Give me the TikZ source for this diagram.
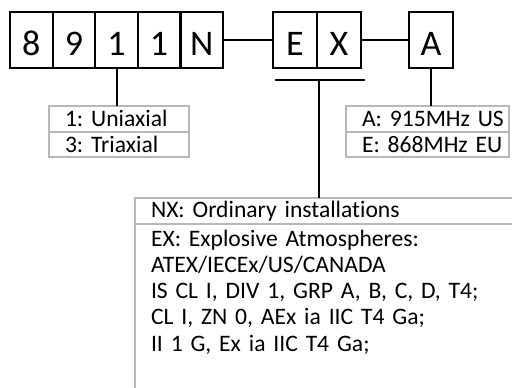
\documentclass[tikz,border=0pt]{standalone}
\usepackage{fontspec}
\setmainfont{Carlito}[Ligatures=NoCommon]
\usetikzlibrary{positioning}

\tikzset{
  cell/.style={draw,line width=1.1pt,minimum width=22pt,minimum height=28pt,inner sep=0pt,outer sep=0pt,
    text height=15pt,text depth=0pt,font=\fontsize{18}{18}\selectfont},
  opt/.style={draw=black!28,line width=1pt,inner xsep=0pt,inner ysep=0pt,outer sep=0pt,
    minimum height=12.8pt,align=left,execute at begin node=\leftskip8pt\relax,
    font=\fontsize{11.8}{13}\selectfont},
  optline/.style={draw=black!28,line width=1pt},
  link/.style={line width=1pt},
}

\begin{document}
\frenchspacing
\begin{tikzpicture}[x=0.5pt,y=-0.5pt]
\useasboundingbox[fill=white] (0,0) rectangle (512,387);
\clip (0,0) rectangle (512,387);
% model number
\foreach \d [count=\i] in {8,9,1,1,N}
  {\node[cell,minimum width=21.3pt] (m\i) at ({10+42.6*(\i-0.5)},40) {\d};}
\node[cell] (e1) at (295,40) {E};
\node[cell,right=0pt of e1] (e2) {X};
\node[cell] (fq) at (431,40) {A};
\draw[link] (m5) -- (e1);
\draw[link] (e2) -- (fq);
% axis options
\node[opt,text width=70pt,anchor=north west] (uni) at (49,106) {1: Uniaxial};
\node[opt,text width=70pt,below=0pt of uni] (tri) {3: Triaxial};
\draw[link] (m3.south) -- (m3.south |- uni.north);
% frequency options
\node[opt,text width=81.5pt,anchor=north west] (us) at (346,106) {A: 915MHz US};
\node[opt,text width=81.5pt,below=0pt of us] (eu) {E: 868MHz EU};
\draw[link] (fq.south) -- (fq.south |- us.north);
% approvals
\coordinate (barL) at (275,80);
\coordinate (barR) at (365,80);
\coordinate (barM) at (319,80);
\draw[link] (barL) -- (barR);
\node[opt,text width=200pt,anchor=north west] (nx) at (135,198) {NX: Ordinary installations};
\node[opt,draw=none,text width=200pt,inner ysep=3.5pt,anchor=north west] (ex) at (nx.south west)
  {EX: Explosive Atmospheres:\\
   ATEX/IECEx/US/CANADA\\
   IS CL I, DIV 1, GRP A, B, C, D, T4;\\
   CL I, ZN 0, AEx ia IIC T4 Ga;\\
   II 1 G, Ex ia IIC T4 Ga;};
\coordinate (exEnd) at (135,400);
\draw[optline] (nx.south west) -- (exEnd);
\draw[link] (barM) -- (barM |- nx.north);
\end{tikzpicture}
\end{document}
